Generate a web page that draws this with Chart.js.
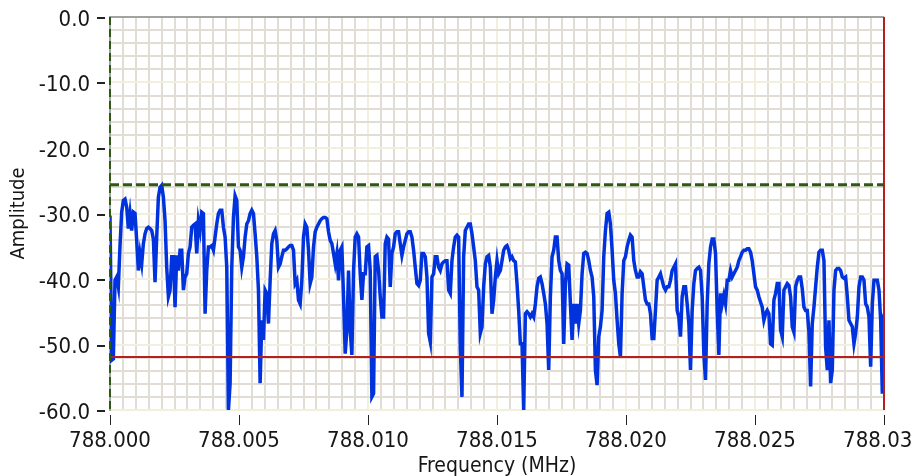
<!DOCTYPE html>
<html>
<head>
<meta charset="utf-8">
<script src="https://cdn.jsdelivr.net/npm/chart.js@4.4.1/dist/chart.umd.min.js"></script>
<style>
  html, body { margin: 0; padding: 0; background: #fff; }
</style>
</head>
<body>
<canvas id="spectrum" width="912" height="476"></canvas>
<script>
// spectrum span (MHz) and the trace, one value per bin (dB)
const startFreq = 788.000;
const stopFreq = 788.030;
const amplitude = [
  -30.3, -52.4, -52.2, -40.2, -39.7, -41.2, -34.9, -29.8, -28.0, -27.8,
  -29.0, -32.3, -30.0, -32.6, -29.8, -30.0, -34.1, -38.7, -36.1, -37.7,
  -34.6, -33.1, -32.3, -32.1, -32.3, -32.6, -33.9, -40.5, -33.6, -27.5,
  -26.0, -25.7, -27.5, -31.1, -38.2, -42.7, -41.7, -36.6, -36.6, -44.3,
  -36.4, -38.7, -35.6, -35.6, -41.7, -39.7, -39.2, -36.1, -35.1, -32.1,
  -31.8, -31.6, -36.1, -31.1, -32.6, -29.8, -30.0, -45.3, -38.7, -35.1,
  -35.1, -34.9, -35.6, -33.6, -31.6, -30.0, -29.5, -29.5, -32.1, -33.6,
  -38.2, -60.0, -55.9, -38.2, -30.6,
  -27.3, -28.0, -35.1, -35.6, -38.2, -36.6, -33.6, -31.6, -31.1, -30.0,
  -29.5, -30.0, -33.1, -36.6, -41.7, -55.9, -46.3, -49.3, -41.7, -42.2,
  -46.8, -40.2, -34.6, -33.1, -32.6, -34.1, -38.2, -37.7, -36.6, -35.6,
  -35.6, -35.4, -35.1, -34.9, -34.9, -35.6, -40.7, -40.2, -43.2, -43.8,
  -40.2, -33.6, -31.6, -32.1, -35.6, -40.7, -39.7, -35.1, -32.8, -32.1,
  -31.6, -31.1, -30.8, -30.6, -30.6, -30.8, -32.8, -34.1, -34.6, -36.1,
  -37.7, -36.1, -40.2, -35.6, -35.1, -42.7, -51.4, -47.8, -38.7, -47.8,
  -51.6, -38.7, -33.6, -33.1, -33.6, -39.2, -43.2, -39.2,
  -39.2, -35.1, -34.9, -38.7, -58.0, -57.5, -36.6, -36.4, -38.7, -42.7,
  -45.8, -45.8, -34.6, -33.6, -33.9, -41.2, -36.1, -35.1, -33.1, -32.8,
  -32.8, -34.6, -36.4, -35.1, -34.1, -33.1, -32.8, -32.8, -33.6, -35.6,
  -38.2, -40.7, -41.0, -40.2, -36.1, -36.1, -36.6, -39.7, -48.3, -49.6,
  -39.7, -39.2, -36.6, -36.6, -38.2, -38.7, -37.7, -37.4, -37.2, -37.2,
  -41.7, -42.2, -37.2, -35.1, -33.6, -33.3, -33.6, -50.4, -58.0, -36.6,
  -32.6, -32.1, -31.6, -31.6, -33.1, -35.1, -37.2, -41.2, -41.7, -48.3,
  -47.3, -41.2, -37.7, -36.6, -36.4, -38.2, -45.3, -43.2,
  -39.7, -37.2, -39.2, -38.7, -37.2, -35.6, -35.1, -34.9, -35.6, -36.9,
  -36.6, -37.2, -37.4, -40.7, -44.8, -49.9, -49.9, -60.0, -45.3, -45.0,
  -45.3, -45.8, -45.3, -45.8, -43.8, -41.2, -39.9, -39.7, -40.7, -42.2,
  -43.8, -46.8, -53.9, -42.7, -36.6, -35.6, -33.6, -33.6, -37.2, -38.7,
  -39.2, -49.9, -40.7, -37.7, -37.9, -43.8, -49.3, -43.8, -46.8, -43.8,
  -46.8, -44.8, -39.2, -36.1, -35.9, -36.1, -37.2, -38.7, -39.7, -42.7,
  -53.9, -56.2, -48.8, -47.3, -44.8, -36.6, -32.6, -30.0, -29.8, -31.6,
  -35.6, -40.2, -42.2, -46.3, -49.9, -51.9, -42.2, -37.2,
  -36.6, -35.1, -34.1, -33.3, -33.6, -37.2, -38.7, -39.7, -39.7, -38.9,
  -39.2, -41.2, -43.2, -43.8, -43.8, -45.3, -49.1, -49.1, -44.8, -40.2,
  -39.7, -39.2, -40.2, -41.2, -41.7, -41.2, -41.2, -40.2, -38.7, -38.2,
  -37.7, -44.8, -45.8, -48.8, -42.7, -41.2, -41.2, -43.8, -46.8, -53.9,
  -44.8, -40.7, -38.7, -38.4, -38.2, -38.7, -42.7, -51.4, -55.4, -43.8,
  -37.7, -35.1, -33.9, -33.9, -36.1, -44.8, -51.6, -42.2, -43.8, -42.5,
  -43.8, -40.2, -40.2, -38.7, -39.7, -39.2, -38.7, -38.2, -37.2, -36.6,
  -35.9, -35.6, -35.6, -35.4, -35.4, -35.9, -37.2, -39.2,
  -41.2, -41.7, -42.7, -43.5, -44.3, -46.3, -45.3, -44.8, -45.3, -49.9,
  -50.1, -43.2, -42.2, -40.7, -40.7, -47.8, -48.8, -41.7, -41.2, -40.7,
  -41.0, -42.7, -47.3, -48.1, -41.2, -40.2, -39.7, -39.7, -41.5, -44.3,
  -44.8, -44.8, -48.1, -56.4, -46.8, -44.3, -41.2, -38.2, -35.9, -35.6,
  -35.6, -37.2, -50.4, -53.9, -46.3, -55.9, -53.9, -41.7, -38.7, -38.4,
  -38.4, -38.7, -39.7, -39.9, -39.7, -42.7, -46.3, -46.8, -47.3, -49.9,
  -48.3, -45.8, -41.2, -39.7, -39.7, -40.2, -43.8, -44.3, -45.8, -53.4,
  -43.8, -40.2, -40.2, -40.2, -41.7, -46.3, -57.5, -45.3
];

// cursors: green = reference level + start marker, red = floor level + stop marker
const cursorFreqs = [788.000, 788.030];
const cursorLevels = [-25.6, -51.9];

// axis ticks: labelled every 0.005 MHz / 10 dB, minor grid every 0.0005 MHz / 2 dB
const yMin = -60, yMax = 0;
const xMinorStep = 0.0005, yMinorStep = 2;

// FFT bins are evenly spaced across the span
const binWidth = (stopFreq - startFreq) / (amplitude.length - 1);
const trace = amplitude.map((a, i) => ({ x: startFreq + i * binWidth, y: a }));

const xTickValues = [];
for (let k = 0; k <= Math.round((stopFreq - startFreq) / xMinorStep); k++) {
  xTickValues.push(startFreq + k * xMinorStep);
}
const yTickValues = [];
for (let v = yMin; v <= yMax; v += yMinorStep) yTickValues.push(v);

const FONT = '"DejaVu Sans Condensed", "DejaVu Sans", sans-serif';
const TEXT = '#161616';
const MINOR = '#e1ddd5';
const MAJOR = '#f3efde';
const FRAME = '#a3a3a3';
const GREEN = '#2d5a12';
const RED = '#b61f1f';
const NONE = 'rgba(0,0,0,0)';

const xIsMajor = i => i % 10 === 0;
const yIsMajor = v => Math.round(v) % 10 === 0;

// short LabVIEW-style tick marks, set a little off the plot edge
const tickMarks = {
  id: 'tickMarks',
  afterDraw(chart) {
    const { ctx, scales: { x, y } } = chart;
    ctx.save();
    ctx.strokeStyle = '#222';
    ctx.lineWidth = 1;
    xTickValues.forEach((v, i) => {
      if (!xIsMajor(i)) return;
      const px = Math.round(x.getPixelForValue(v)) + 0.5;
      ctx.beginPath();
      ctx.moveTo(px, x.top + 5);
      ctx.lineTo(px, x.top + 15);
      ctx.stroke();
    });
    ctx.lineWidth = 2;
    yTickValues.forEach(v => {
      if (!yIsMajor(v)) return;
      const py = Math.round(y.getPixelForValue(v)) + 1;
      ctx.beginPath();
      ctx.moveTo(y.right - 13, py);
      ctx.lineTo(y.right - 5, py);
      ctx.stroke();
    });
    ctx.restore();
  }
};

new Chart(document.getElementById('spectrum'), {
  type: 'line',
  data: {
    datasets: [
      {
        data: [{ x: cursorFreqs[0], y: cursorLevels[0] }, { x: cursorFreqs[1], y: cursorLevels[0] }],
        borderColor: GREEN, borderWidth: 3, borderDash: [9, 4], pointRadius: 0, clip: false
      },
      {
        data: [{ x: cursorFreqs[0], y: yMax }, { x: cursorFreqs[0], y: yMin }],
        borderColor: GREEN, borderWidth: 2, borderDash: [8, 4], pointRadius: 0, clip: false
      },
      {
        data: [{ x: cursorFreqs[0], y: cursorLevels[1] }, { x: cursorFreqs[1], y: cursorLevels[1] }],
        borderColor: RED, borderWidth: 2, pointRadius: 0, clip: false
      },
      {
        data: [{ x: cursorFreqs[1], y: yMax }, { x: cursorFreqs[1], y: yMin }],
        borderColor: RED, borderWidth: 2, pointRadius: 0, clip: false
      },
      {
        data: trace,
        borderColor: '#0033dd', borderWidth: 3.5, pointRadius: 0, tension: 0
      }
    ]
  },
  options: {
    responsive: false,
    animation: false,
    devicePixelRatio: 1,
    layout: { padding: { top: 17, right: 28, left: 0, bottom: 0 } },
    plugins: { legend: { display: false }, tooltip: { enabled: false } },
    scales: {
      x: {
        type: 'linear',
        min: startFreq,
        max: stopFreq,
        afterBuildTicks: s => { s.ticks = xTickValues.map(v => ({ value: v })); },
        afterFit: s => { s.height = 66; s.paddingLeft = 0; s.paddingRight = 0; },
        ticks: {
          autoSkip: false, maxRotation: 0, padding: 2, color: TEXT,
          font: { family: FONT, size: 22 },
          callback: (v, i) => xIsMajor(i) ? Number(v).toFixed(3) : ''
        },
        grid: {
          lineWidth: 2,
          color: c => c.index === 0 ? FRAME : (xIsMajor(c.index) ? MAJOR : MINOR),
          tickLength: 16,
          tickColor: NONE
        },
        border: { display: false },
        title: {
          display: true, text: 'Frequency (MHz)', color: TEXT,
          font: { family: FONT, size: 21, lineHeight: 0.9 }, padding: 0
        }
      },
      y: {
        min: yMin,
        max: yMax,
        afterBuildTicks: s => { s.ticks = yTickValues.map(v => ({ value: v })); },
        afterFit: s => { s.width = 110; s.paddingTop = 0; s.paddingBottom = 0; },
        ticks: {
          autoSkip: false, padding: 6, labelOffset: 3, color: TEXT,
          font: { family: FONT, size: 22 },
          callback: v => yIsMajor(v) ? Number(v).toFixed(1) : ''
        },
        grid: {
          lineWidth: 2,
          color: c => {
            const v = c.tick ? c.tick.value : 0;
            if (v === yMax) return FRAME;
            return yIsMajor(v) ? MAJOR : MINOR;
          },
          tickLength: 14,
          tickColor: NONE
        },
        border: { color: FRAME, width: 2 },
        title: {
          display: true, text: 'Amplitude', color: TEXT,
          font: { family: FONT, size: 20 }, padding: { top: 7, bottom: 0 }
        }
      }
    }
  },
  plugins: [tickMarks]
});
</script>
</body>
</html>
